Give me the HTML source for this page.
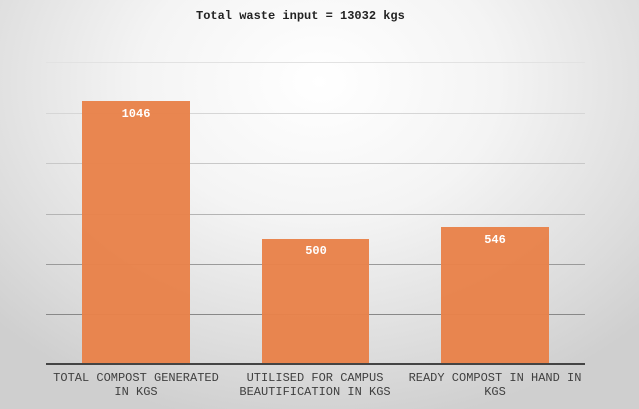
<!DOCTYPE html><html><head><style>
body{margin:0;width:639px;height:409px;overflow:hidden;background:radial-gradient(ellipse 70% 85% at 50% 20%,#ffffff 0%,#f4f4f4 40%,#dcdcdc 80%,#cfcfcf 100%);font-family:"Liberation Mono",monospace;position:relative}
.g{position:absolute;left:46px;width:539px;height:1px}
.b{position:absolute;background:#e8824a;opacity:.97}
.v{position:absolute;color:#fff;font-weight:bold;font-size:12px;text-align:center;width:108px}
.l{position:absolute;top:371px;font-size:12px;color:#404040;text-align:center;line-height:14px;width:190px}
</style></head><body>
<div style="position:absolute;top:9px;left:196px;font-size:12px;color:#222;font-weight:bold">Total waste input = 13032 kgs</div>
<div class="g" style="top:62px;background:#e2e2e2"></div>
<div class="g" style="top:113px;background:#d6d6d6"></div>
<div class="g" style="top:163px;background:#c8c8c8"></div>
<div class="g" style="top:214px;background:#b4b4b4"></div>
<div class="g" style="top:264px;background:#9a9a9a"></div>
<div class="g" style="top:314px;background:#888"></div>
<div class="b" style="left:82px;width:108px;top:101px;height:263px"></div>
<div class="b" style="left:262px;width:107px;top:239px;height:125px"></div>
<div class="b" style="left:441px;width:108px;top:227px;height:137px"></div>
<div class="g" style="top:363px;height:2px;background:#444"></div>
<div class="v" style="left:82px;top:107px">1046</div>
<div class="v" style="left:262px;top:244px">500</div>
<div class="v" style="left:441px;top:233px">546</div>
<div class="l" style="left:41px">TOTAL COMPOST GENERATED<br>IN KGS</div>
<div class="l" style="left:220px">UTILISED FOR CAMPUS<br>BEAUTIFICATION IN KGS</div>
<div class="l" style="left:400px">READY COMPOST IN HAND IN<br>KGS</div>
</body></html>
